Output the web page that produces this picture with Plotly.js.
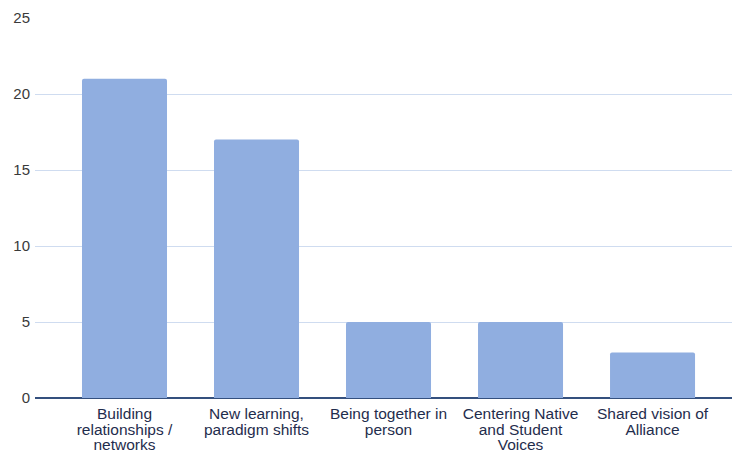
<!DOCTYPE html>
<html><head><meta charset="utf-8">
<script src="https://cdn.plot.ly/plotly-3.0.1.min.js"></script>
<style>html,body{margin:0;padding:0;background:#fff}#c{width:732px;height:452px}</style>
</head><body><div id="c"></div>
<script>
const categories = ["Building<br>relationships /<br>networks", "New learning,<br>paradigm shifts", "Being together in<br>person", "Centering Native<br>and Student<br>Voices", "Shared vision of<br>Alliance"];
const values = [21, 17, 5, 5, 3];
const yTicks = [0, 5, 10, 15, 20, 25];
const positions = categories.map((c, i) => i);
const tickText = categories.map(c => c.split('<br>').map(l => '<span style="font-size:15.5px">' + l + '</span>').join('<br>'));

Plotly.newPlot('c', [{
  type: 'bar', x: positions, y: values,
  marker: {color: '#90aee0', cornerradius: 2},
  hoverinfo: 'none'
}], {
  width: 732, height: 452,
  margin: {l: 35, r: 0, t: 18, b: 54},
  paper_bgcolor: '#fff', plot_bgcolor: '#fff',
  bargap: 0.356,
  showlegend: false,
  font: {family: 'Liberation Sans, Arial, sans-serif', size: 14, color: '#222'},
  xaxis: {
    range: [-0.678, 4.602], tickvals: positions, ticktext: tickText,
    showgrid: false, zeroline: false, showline: false, ticks: '',
    ticklabelstandoff: 8,
    tickfont: {color: '#1f2d4d', size: 12}, fixedrange: true
  },
  yaxis: {
    range: [0, 25], tickvals: yTicks,
    gridcolor: '#cfdcf0', gridwidth: 1,
    zeroline: true, zerolinecolor: '#34507e', zerolinewidth: 1.5,
    ticks: '', ticklabelstandoff: 4,
    tickfont: {color: '#3a3a3a', size: 15}, fixedrange: true
  }
}, {staticPlot: true});
</script></body></html>
